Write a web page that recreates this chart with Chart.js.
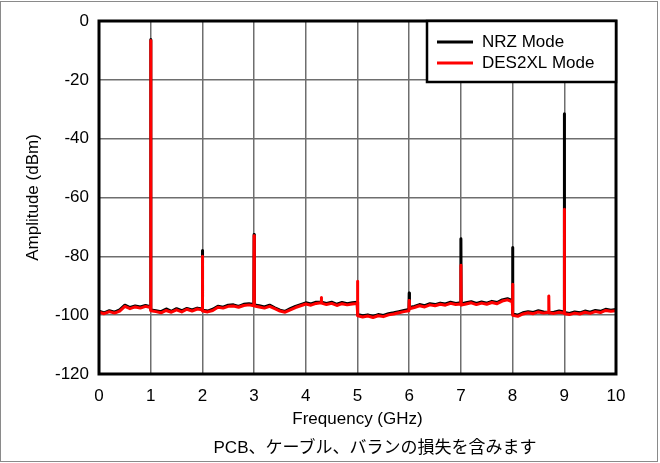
<!DOCTYPE html>
<html>
<head>
<meta charset="utf-8">
<script src="https://cdn.jsdelivr.net/npm/chart.js@4/dist/chart.umd.min.js"></script>
<style>
  html, body { margin: 0; padding: 0; background: #fff; }
  .frame { position: absolute; left: 0; top: 1px; width: 656px; height: 459px; border: 1px solid #8a8a8a; }
  .wrap { position: absolute; left: 0; top: 0; width: 660px; height: 463px; }
  .caption {
    position: absolute; left: 0; width: 750px; top: 433px; text-align: center;
    font-family: "Liberation Sans", "Noto Sans CJK JP", sans-serif; font-size: 17px; color: #000;
  }
</style>
</head>
<body>
<div class="frame"></div>
<div class="wrap"><canvas id="spectrum" width="660" height="463"></canvas></div>
<div class="caption">PCB、ケーブル、バランの損失を含みます</div>
<script>
// frequency points (GHz); spikes use a narrow triplet around the tone
const freq = [
  0, 0.1, 0.2, 0.3, 0.4, 0.5, 0.6, 0.7, 0.8, 0.9,
  0.995, 1.0, 1.005, 1.1, 1.2, 1.3, 1.4, 1.5, 1.6, 1.7, 1.8, 1.9,
  1.995, 2.0, 2.005, 2.1, 2.2, 2.3, 2.4, 2.5, 2.6, 2.7, 2.8, 2.9,
  2.995, 3.0, 3.005, 3.1, 3.2, 3.3, 3.4, 3.5, 3.6, 3.7, 3.8, 3.9,
  4.0, 4.1, 4.2, 4.295, 4.3, 4.305, 4.4, 4.5, 4.6, 4.7, 4.8, 4.9,
  4.995, 5.0, 5.005, 5.1, 5.2, 5.3, 5.4, 5.5, 5.6, 5.7, 5.8, 5.9,
  5.995, 6.0, 6.005, 6.1, 6.2, 6.3, 6.4, 6.5, 6.6, 6.7, 6.8, 6.9,
  6.995, 7.0, 7.005, 7.1, 7.2, 7.3, 7.4, 7.5, 7.6, 7.7, 7.8, 7.9,
  7.995, 8.0, 8.005, 8.1, 8.2, 8.3, 8.4, 8.5, 8.6,
  8.695, 8.7, 8.705, 8.8, 8.9,
  8.995, 9.0, 9.005, 9.1, 9.2, 9.3, 9.4, 9.5, 9.6, 9.7, 9.8, 9.9, 10.0
];

const nrzMode = [
  -98.6, -99.2, -98.5, -99.0, -98.2, -96.6, -97.4, -96.9, -97.2, -96.7,
  -97.1, -6.3, -98.2, -98.5, -98.8, -97.9, -98.7, -97.8, -98.5, -97.7, -98.2, -97.6,
  -97.9, -78.0, -98.3, -98.6, -98.0, -97.0, -97.3, -96.6, -96.5, -97.0, -96.3, -96.1,
  -96.4, -72.6, -96.5, -96.8, -97.2, -96.6, -97.5, -98.3, -98.7, -97.8, -97.0, -96.4,
  -95.8, -96.2, -95.6, -95.6, -95.4, -95.6, -96.0, -95.6, -96.3, -95.7, -96.1, -95.8,
  -95.6, -96.2, -99.8, -100.2, -99.9, -100.4, -99.8, -100.1, -99.5, -99.2, -98.8, -98.4,
  -98.1, -92.5, -97.4, -97.0, -96.4, -96.8, -96.1, -96.4, -95.9, -96.2, -95.6, -96.0,
  -95.8, -74.0, -96.2, -95.8, -95.4, -96.0, -95.5, -95.9, -95.3, -95.7, -94.8, -94.4,
  -95.1, -77.0, -99.6, -100.0, -99.2, -98.8, -99.1, -98.5, -98.9,
  -99.1, -99.0, -99.2, -99.0, -98.6,
  -98.9, -31.5, -99.1, -99.4, -98.9, -99.2, -98.6, -99.0, -98.4, -98.7, -98.0, -98.3, -98.1
];

const des2xlMode = [
  -99.0, -99.5, -98.8, -99.3, -98.6, -97.0, -97.8, -97.2, -97.6, -97.0,
  -97.4, -6.6, -98.5, -98.8, -99.2, -98.4, -99.0, -98.2, -98.9, -98.0, -98.6, -97.9,
  -98.2, -80.0, -98.6, -98.9, -98.4, -97.3, -97.6, -97.0, -96.9, -97.3, -96.7, -96.5,
  -96.8, -73.0, -96.9, -97.2, -97.6, -97.0, -97.8, -98.6, -99.0, -98.2, -97.4, -96.8,
  -96.2, -96.6, -96.0, -95.8, -94.0, -95.9, -96.4, -96.0, -96.7, -96.1, -96.5, -96.2,
  -96.0, -88.5, -100.2, -100.6, -100.3, -100.8, -100.2, -100.5, -99.9, -99.6, -99.2, -98.8,
  -98.5, -95.0, -97.8, -97.4, -96.8, -97.2, -96.5, -96.8, -96.3, -96.6, -96.0, -96.4,
  -96.2, -83.0, -96.6, -96.2, -95.8, -96.4, -95.9, -96.3, -95.7, -96.1, -95.2, -94.8,
  -95.5, -89.5, -100.0, -100.4, -99.6, -99.2, -99.5, -98.9, -99.3,
  -99.0, -93.5, -99.2, -99.4, -99.0,
  -99.3, -64.0, -99.5, -99.8, -99.3, -99.6, -99.0, -99.4, -98.8, -99.1, -98.4, -98.7, -98.5
];

const seriesNames = ["NRZ Mode", "DES2XL Mode"];
const seriesColors = ["#000000", "#ff0000"];
const yTicks = [0, -20, -40, -60, -80, -100, -120];
const xTicks = [0, 1, 2, 3, 4, 5, 6, 7, 8, 9, 10];

const font = "'Liberation Sans', Arial, sans-serif";

const pts = (ys) => freq.map((f, i) => ({ x: f, y: ys[i] }));

// legend box drawn inside the top-right corner of the plot
const boxLegend = {
  id: "boxLegend",
  afterDraw(chart) {
    const { ctx, chartArea } = chart;
    const w = 189, h = 61;
    const x0 = chartArea.right - w, y0 = chartArea.top;
    ctx.save();
    ctx.fillStyle = "#fff";
    ctx.fillRect(x0, y0, w, h);
    ctx.strokeStyle = "#000";
    ctx.lineWidth = 2.5;
    ctx.strokeRect(x0, y0, w, h);
    ctx.font = "17px " + font;
    ctx.textBaseline = "middle";
    seriesNames.forEach((name, i) => {
      const y = y0 + 21 + i * 21;
      ctx.strokeStyle = seriesColors[i];
      ctx.lineWidth = 3;
      ctx.beginPath();
      ctx.moveTo(x0 + 10, y);
      ctx.lineTo(x0 + 46, y);
      ctx.stroke();
      ctx.fillStyle = "#000";
      ctx.fillText(name, x0 + 55, y);
    });
    ctx.restore();
  }
};

// thick black frame round the plot area
const plotFrame = {
  id: "plotFrame",
  afterDatasetsDraw(chart) {
    const { ctx, chartArea: a } = chart;
    ctx.save();
    ctx.strokeStyle = "#000";
    ctx.lineWidth = 3;
    ctx.strokeRect(a.left, a.top, a.right - a.left, a.bottom - a.top);
    ctx.restore();
  }
};

new Chart(document.getElementById("spectrum"), {
  type: "scatter",
  data: {
    datasets: [
      {
        label: seriesNames[0],
        data: pts(nrzMode),
        borderColor: seriesColors[0],
        borderWidth: 3,
        borderJoinStyle: "round",
        showLine: true,
        pointRadius: 0,
        order: 2,
      },
      {
        label: seriesNames[1],
        data: pts(des2xlMode),
        borderColor: seriesColors[1],
        borderWidth: 3,
        borderJoinStyle: "round",
        showLine: true,
        pointRadius: 0,
        order: 1,
      },
    ],
  },
  options: {
    responsive: false,
    animation: false,
    layout: { padding: { top: 21, right: 44, left: 0, bottom: 33 } },
    plugins: {
      legend: { display: false },
      tooltip: { enabled: false },
    },
    scales: {
      x: {
        type: "linear",
        min: 0,
        max: 10,
        afterBuildTicks: (s) => { s.ticks = xTicks.map((v) => ({ value: v })); },
        afterFit: (s) => { s.height = 56; },
        grid: { color: "#6e6e6e", lineWidth: 1.5, drawTicks: false },
        border: { display: false },
        ticks: { color: "#000", font: { family: font, size: 17 }, padding: 12 },
        title: { display: true, text: "Frequency (GHz)", color: "#000", font: { family: font, size: 17 }, padding: 0 },
      },
      y: {
        type: "linear",
        min: -120,
        max: 0,
        afterBuildTicks: (s) => { s.ticks = yTicks.map((v) => ({ value: v })); },
        afterFit: (s) => { s.width = 99; },
        grid: { color: "#6e6e6e", lineWidth: 1.5, drawTicks: false },
        border: { display: false },
        ticks: { color: "#000", font: { family: font, size: 17 }, padding: 10 },
        title: { display: true, text: "Amplitude (dBm)", color: "#000", font: { family: font, size: 17 }, padding: { top: 23, bottom: 0 } },
      },
    },
  },
  plugins: [plotFrame, boxLegend],
});
</script>
</body>
</html>
